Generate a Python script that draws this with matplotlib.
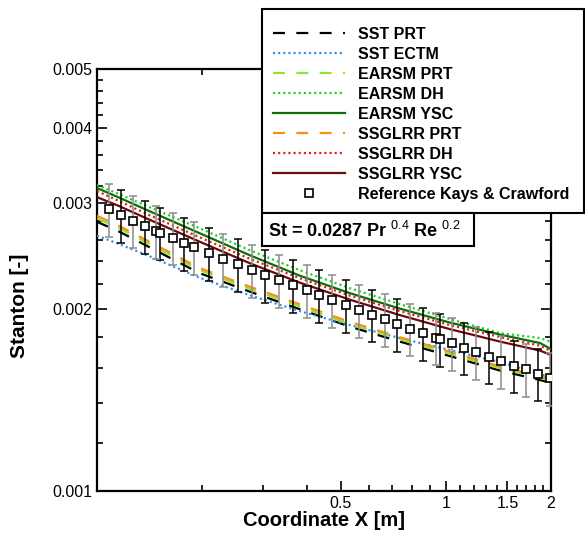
import matplotlib
matplotlib.use('Agg')
import matplotlib.pyplot as plt
import numpy as np
from matplotlib.ticker import FixedLocator, FixedFormatter, NullFormatter
from matplotlib.patches import Rectangle

plt.rcParams['font.family'] = ['Liberation Sans', 'DejaVu Sans']
plt.rcParams['mathtext.fontset'] = 'custom'
plt.rcParams['mathtext.rm'] = 'Liberation Sans'
plt.rcParams['lines.scale_dashes'] = False

# coordonnees des courbes calculees [m]
x_cfd = [0.1, 0.1158, 0.1412, 0.1965, 0.2735, 0.3806, 0.5298, 0.7374, 1.026, 1.428, 1.861, 2.0]

# Stanton x 1e-3
sst_prt = [2.792, 2.689, 2.535, 2.296, 2.140, 2.001, 1.872, 1.768, 1.673, 1.583, 1.527, 1.510]
sst_ectm = [2.649, 2.564, 2.449, 2.256, 2.111, 1.986, 1.883, 1.792, 1.712, 1.635, 1.562, 1.541]
earsm_prt = [2.828, 2.724, 2.565, 2.324, 2.164, 2.023, 1.891, 1.786, 1.688, 1.597, 1.539, 1.522]
earsm_dh = [3.212, 3.102, 2.953, 2.726, 2.506, 2.322, 2.168, 2.040, 1.927, 1.826, 1.792, 1.765]
earsm_ysc = [3.176, 3.061, 2.908, 2.674, 2.459, 2.274, 2.127, 2.005, 1.901, 1.816, 1.758, 1.718]
ssglrr_prt = [2.856, 2.748, 2.588, 2.342, 2.181, 2.039, 1.906, 1.798, 1.701, 1.608, 1.550, 1.533]
ssglrr_dh = [3.139, 3.021, 2.864, 2.633, 2.426, 2.252, 2.107, 1.986, 1.883, 1.799, 1.741, 1.705]
ssglrr_ysc = [3.067, 2.964, 2.815, 2.589, 2.385, 2.214, 2.075, 1.956, 1.854, 1.768, 1.708, 1.680]

# reference Kays & Crawford
x_ref = [0.108, 0.117, 0.127, 0.1375, 0.148, 0.152, 0.165, 0.177, 0.190, 0.210, 0.230, 0.254, 0.278,
         0.303, 0.332, 0.364, 0.400, 0.434, 0.473, 0.516, 0.562, 0.614, 0.668, 0.726, 0.791, 0.859,
         0.934, 0.960, 1.038, 1.126, 1.221, 1.325, 1.438, 1.564, 1.696, 1.836, 1.987]
st_ref = [2.931, 2.861, 2.803, 2.744, 2.696, 2.677, 2.627, 2.574, 2.532, 2.475, 2.422, 2.376, 2.322,
          2.276, 2.233, 2.191, 2.149, 2.109, 2.068, 2.032, 1.994, 1.958, 1.924, 1.888, 1.856, 1.824,
          1.794, 1.785, 1.758, 1.727, 1.699, 1.669, 1.641, 1.612, 1.590, 1.564, 1.537]
ref_err = 0.10  # incertitude relative

y_ticks = [0.001, 0.002, 0.003, 0.004, 0.005]
x_ticks = [0.5, 1, 1.5, 2]
x_tick_labels = ['0.5', '1', '1.5', '2']

fig = plt.figure(figsize=(5.85, 5.33), dpi=100)
ax = fig.add_axes([97 / 585, 42 / 533, 454 / 585, 422 / 533])

dash = (0, (8.6, 8.2))
dot = (0, (1.5, 2.2))
curves = [
    (sst_prt, 'SST PRT', 'black', dash),
    (sst_ectm, 'SST ECTM', '#2e8fe8', dot),
    (earsm_prt, 'EARSM PRT', '#8ae62e', dash),
    (earsm_dh, 'EARSM DH', '#22cc22', dot),
    (earsm_ysc, 'EARSM YSC', '#0b6e0b', '-'),
    (ssglrr_prt, 'SSGLRR PRT', '#ff8c1a', dash),
    (ssglrr_dh, 'SSGLRR DH', '#e01b1b', dot),
    (ssglrr_ysc, 'SSGLRR YSC', '#6e0a0a', '-'),
]
handles = []
for vals, lab, col, ls in curves:
    h, = ax.plot(x_cfd, np.array(vals) * 1e-3, color=col, ls=ls, lw=1.6, label=lab, zorder=3)
    handles.append(h)

xr = np.array(x_ref)
yr = np.array(st_ref) * 1e-3
for sl, col in [(slice(1, None, 2), 'black'), (slice(0, None, 2), '#8c8c8c')]:
    ax.errorbar(xr[sl], yr[sl], yerr=yr[sl] * ref_err, fmt='none', ecolor=col,
                elinewidth=1.1, capsize=3.2, capthick=1.1, zorder=4)
h, = ax.plot(xr, yr, 's', ms=6, mfc='white', mec='black', mew=1.2,
             label='Reference Kays & Crawford', zorder=5)
handles.append(h)

ax.set_xscale('log')
ax.set_yscale('log')
ax.set_xlim(0.1, 2)
ax.set_ylim(0.001, 0.005)

ax.xaxis.set_major_locator(FixedLocator(x_ticks))
ax.xaxis.set_major_formatter(FixedFormatter(x_tick_labels))
ax.xaxis.set_minor_locator(FixedLocator([0.2, 0.3, 0.4, 0.6, 0.7, 0.8, 0.9, 1.1, 1.2, 1.3, 1.4,
                                         1.6, 1.7, 1.8, 1.9]))
ax.xaxis.set_minor_formatter(NullFormatter())
ax.yaxis.set_major_locator(FixedLocator(y_ticks))
ax.yaxis.set_major_formatter(FixedFormatter(['%.3f' % v for v in y_ticks]))
ax.yaxis.set_minor_locator(FixedLocator([v for v in np.arange(0.0012, 0.0049, 0.0002)
                                         if abs(v * 1000 - round(v * 1000)) > 1e-6]))
ax.yaxis.set_minor_formatter(NullFormatter())

ax.tick_params(which='both', direction='in', top=True, right=True, width=1.2, labelsize=11.5)
ax.tick_params(which='major', length=7.5, pad=3.5)
ax.tick_params(which='minor', length=4.5)
for s in ax.spines.values():
    s.set_linewidth(1.6)

ax.set_xlabel('Coordinate X [m]', fontsize=14.5, fontweight='bold', labelpad=0)
ax.set_ylabel('Stanton [-]', fontsize=15, fontweight='bold')
ax.yaxis.set_label_coords(-0.15, 0.44)

# cadre de la legende
fig.add_artist(Rectangle((262 / 585, 1 - 213 / 533), 322 / 585, 204 / 533, transform=fig.transFigure,
                         facecolor='white', edgecolor='black', lw=1.5, zorder=4))
leg = fig.legend(handles=handles, loc='upper left', bbox_to_anchor=(273 / 585, 1 - 27 / 533),
                 frameon=False, prop={'size': 11.5, 'weight': 'bold'}, handlelength=4.5,
                 handletextpad=0.8, labelspacing=0.31, borderpad=0, borderaxespad=0, numpoints=1)
leg.set_zorder(5)

fig.add_artist(Rectangle((262 / 585, 1 - 246 / 533), 212 / 585, 33 / 533, transform=fig.transFigure,
                         facecolor='white', edgecolor='black', lw=1.5, zorder=4))
fig.text(268 / 585, 1 - 231 / 533, r'St = 0.0287 Pr $^{0.4}$ Re $^{0.2}$', fontsize=13,
         fontweight='bold', va='center', ha='left', zorder=6)

fig.savefig('out.png', dpi=100)
